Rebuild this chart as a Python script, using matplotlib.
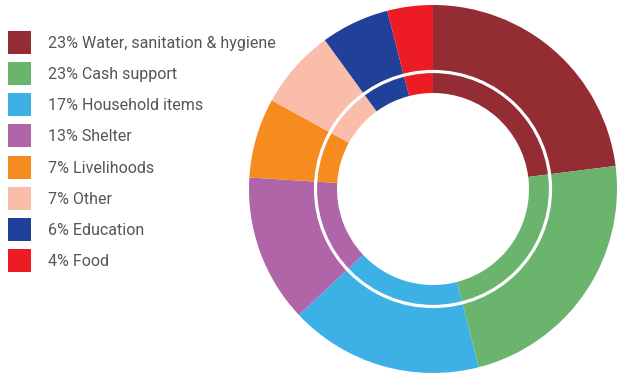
import matplotlib.pyplot as plt
from matplotlib.patches import Circle, Rectangle

# data
labels = ["Water, sanitation & hygiene", "Cash support", "Household items", "Shelter",
          "Livelihoods", "Other", "Education", "Food"]
shares = [23, 23, 17, 13, 7, 7, 6, 4]
colors = ["#932C33", "#6BB46D", "#3DB1E5", "#AF65A8", "#F68B1F", "#F9BDA9", "#21409A", "#ED1C24"]

W, H = 619, 375
fig = plt.figure(figsize=(W / 100, H / 100), dpi=100)

# donut, axes in pixel units around centre (433, 189)
cx, cy, R = 433, 189, 190
ax = fig.add_axes([(cx - R) / W, (H - cy - R) / H, 2 * R / W, 2 * R / H])
ax.pie(shares, colors=colors, startangle=90, counterclock=False, radius=184,
       wedgeprops=dict(width=88, linewidth=0), frame=True)
ax.add_patch(Circle((0, 0), 117.5, fill=False, edgecolor="white", linewidth=2.3))
ax.set_xlim(-R, R)
ax.set_ylim(-R, R)
ax.set_aspect("equal")
ax.axis("off")

# legend, drawn in pixel coordinates
lg = fig.add_axes([0, 0, 1, 1])
lg.set_xlim(0, W)
lg.set_ylim(H, 0)
lg.axis("off")
for i, (lab, val, col) in enumerate(zip(labels, shares, colors)):
    y = 42.5 + i * 31.15
    lg.add_patch(Rectangle((8, y - 11.5), 23, 23, color=col, linewidth=0))
    lg.text(48, y + 1, f"{val}% {lab}", fontsize=11.5, color="#555555",
            va="center", ha="left", family="Roboto")

fig.savefig("out.png", dpi=100)
